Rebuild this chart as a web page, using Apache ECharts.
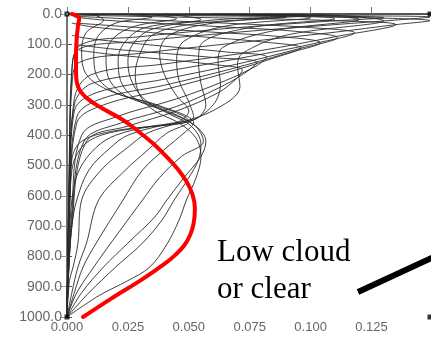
<!DOCTYPE html>
<html>
<head>
<meta charset="utf-8">
<script src="https://cdn.jsdelivr.net/npm/echarts@6/dist/echarts.min.js"></script>
<style>
  html, body { margin: 0; padding: 0; background: #fff; }
  #chart { width: 431px; height: 337px; }
</style>
</head>
<body>
<div id="chart"></div>
<script>
// axis ticks
const xTicks = [0, 0.025, 0.05, 0.075, 0.1, 0.125];

// thick red profile [value, pressure]
const redCurve = [[0.002, 0], [0.005, 15], [0.0045, 40], [0.004, 80], [0.0037, 140], [0.0037, 190],
  [0.004, 225], [0.0055, 255], [0.0085, 280], [0.0135, 307], [0.023, 350], [0.030, 392],
  [0.036, 432], [0.041, 472], [0.0455, 512], [0.049, 552], [0.0515, 595], [0.0525, 640],
  [0.052, 690], [0.0505, 730], [0.048, 765], [0.0445, 795], [0.040, 825], [0.031, 875],
  [0.018, 940], [0.0066, 1000]];

// outer low-level profiles
const o1 = [[0, 1000], [0.013, 930], [0.025, 880], [0.034, 835], [0.041, 760], [0.046, 680], [0.049, 614], [0.053, 540], [0.055, 470], [0.053, 410], [0.046, 360], [0.036, 320], [0.030, 270], [0.028, 200], [0.030, 130], [0.035, 70], [0.050, 35], [0.080, 15], [0.100, 5], [0.06, 0]];
const o2 = [[0, 1000], [0.009, 920], [0.020, 835], [0.031, 756], [0.039, 680], [0.044, 614], [0.050, 540], [0.054, 480], [0.055, 430], [0.051, 370], [0.042, 330], [0.033, 290], [0.027, 230], [0.025, 160], [0.027, 100], [0.035, 50], [0.060, 20], [0.090, 8], [0.05, 0]];
const o3 = [[0, 1000], [0.006, 920], [0.015, 835], [0.025, 756], [0.036, 670], [0.041, 614], [0.048, 540], [0.055, 470], [0.057, 420], [0.052, 365], [0.040, 320], [0.028, 280], [0.022, 220], [0.021, 150], [0.024, 90], [0.032, 45], [0.055, 18], [0.04, 0]];
const o4 = [[0, 1000], [0.004, 920], [0.011, 835], [0.018, 756], [0.031, 614], [0.038, 540], [0.047, 470], [0.056, 420], [0.052, 365], [0.038, 310], [0.024, 270], [0.017, 210], [0.016, 140], [0.019, 80], [0.028, 40], [0.045, 15], [0.03, 0]];
const o5 = [[0, 1000], [0.003, 920], [0.0066, 835], [0.012, 756], [0.023, 614], [0.031, 515], [0.041, 440], [0.048, 393], [0.052, 360], [0.037, 300], [0.020, 260], [0.012, 200], [0.011, 130], [0.013, 70], [0.020, 30], [0.035, 10], [0.02, 0]];
const o6 = [[0, 1000], [0.002, 920], [0.0045, 835], [0.008, 756], [0.013, 614], [0.024, 515], [0.033, 450], [0.041, 393], [0.050, 355], [0.036, 300], [0.018, 255], [0.008, 200], [0.006, 120], [0.008, 60], [0.015, 20], [0.01, 0]];

// mid-level profiles
const p1 = [[0, 1000], [0.001, 880], [0.0025, 835], [0.0045, 756], [0.006, 614], [0.014, 515], [0.025, 440], [0.033, 393], [0.046, 355], [0.050, 320], [0.045, 270], [0.040, 200], [0.038, 130], [0.042, 70], [0.060, 30], [0.090, 10], [0.06, 0]];
const p2 = [[0, 1000], [0.001, 800], [0.002, 700], [0.004, 614], [0.009, 515], [0.018, 440], [0.025, 400], [0.040, 365], [0.052, 340], [0.050, 290], [0.046, 220], [0.045, 150], [0.048, 90], [0.065, 40], [0.100, 12], [0.07, 0]];
const p3 = [[0, 1000], [0.001, 750], [0.002, 614], [0.005, 515], [0.012, 440], [0.020, 400], [0.035, 370], [0.052, 350], [0.057, 300], [0.055, 230], [0.054, 160], [0.055, 100], [0.075, 45], [0.110, 15], [0.08, 0]];
const p4 = [[0, 1000], [0.001, 700], [0.002, 515], [0.006, 440], [0.014, 400], [0.030, 375], [0.050, 355], [0.060, 300], [0.063, 230], [0.062, 160], [0.064, 110], [0.085, 55], [0.120, 18], [0.09, 0]];
const p5 = [[0, 1000], [0.001, 650], [0.002, 480], [0.006, 420], [0.020, 385], [0.045, 360], [0.062, 310], [0.071, 240], [0.070, 170], [0.072, 130], [0.090, 70], [0.130, 22], [0.10, 0]];

// upper-level profiles with sharp tips
const t1 = [[0, 1000], [0.001, 500], [0.002, 200], [0.004, 120], [0.030, 90], [0.070, 60], [0.110, 35], [0.135, 20], [0.149, 10], [0.120, 6], [0.080, 4], [0.040, 2], [0.005, 0]];
const t2 = [[0, 1000], [0.001, 500], [0.002, 240], [0.005, 160], [0.030, 130], [0.070, 95], [0.110, 60], [0.135, 35], [0.149, 22], [0.120, 12], [0.070, 7], [0.030, 4], [0.005, 1]];
const t3 = [[0, 1000], [0.001, 600], [0.003, 280], [0.010, 200], [0.040, 165], [0.080, 120], [0.110, 75], [0.135, 35], [0.110, 22], [0.070, 14], [0.030, 8], [0.005, 4]];
const t4 = [[0, 1000], [0.001, 600], [0.003, 320], [0.012, 260], [0.040, 215], [0.070, 165], [0.095, 115], [0.111, 78], [0.095, 58], [0.070, 45], [0.040, 32], [0.015, 20], [0.003, 10]];
const t5 = [[0, 1000], [0.001, 650], [0.004, 360], [0.015, 300], [0.040, 250], [0.065, 195], [0.085, 145], [0.096, 112], [0.080, 92], [0.055, 75], [0.030, 58], [0.010, 42], [0.002, 30]];
const t6 = [[0, 1000], [0.002, 650], [0.006, 400], [0.020, 340], [0.045, 280], [0.065, 220], [0.078, 170], [0.082, 142], [0.065, 125], [0.045, 110], [0.025, 95], [0.008, 80], [0.002, 70]];
const t7 = [[0, 1000], [0.002, 700], [0.008, 420], [0.025, 370], [0.045, 320], [0.062, 260], [0.070, 210], [0.072, 185], [0.058, 165], [0.040, 150], [0.020, 135], [0.005, 120]];
const t8 = [[0, 1000], [0.001, 550], [0.003, 300], [0.010, 230], [0.040, 190], [0.075, 140], [0.100, 100], [0.118, 62], [0.100, 45], [0.070, 32], [0.035, 20], [0.005, 8]];
const t9 = [[0, 1000], [0.001, 620], [0.004, 340], [0.014, 280], [0.040, 235], [0.068, 180], [0.090, 130], [0.104, 95], [0.088, 75], [0.060, 60], [0.030, 45], [0.004, 30]];
const t10 = [[0, 1000], [0.002, 680], [0.007, 420], [0.022, 360], [0.045, 305], [0.062, 245], [0.072, 200], [0.078, 160], [0.062, 145], [0.040, 130], [0.018, 115], [0.003, 100]];
const t11 = [[0, 1000], [0.001, 450], [0.002, 180], [0.006, 100], [0.030, 75], [0.070, 45], [0.105, 25], [0.130, 12], [0.100, 6], [0.060, 3], [0.010, 0]];

const blackCurves = [o1, o2, o3, o4, o5, o6, p1, p2, p3, p4, p5, t1, t2, t3, t4, t5, t6, t7, t8, t9, t10, t11];

// corner markers of the frame
const corners = [[0, 0], [0, 1000], [0.149, 0], [0.149, 1000]];

const chart = echarts.init(document.getElementById('chart'));

const series = blackCurves.map(function (d) {
  return {
    type: 'line',
    data: d,
    smooth: 0.35,
    symbol: 'none',
    lineStyle: { color: '#2b2b2b', width: 0.9 },
    z: 2
  };
});

series.push({
  type: 'line',
  data: redCurve,
  smooth: 0.4,
  symbol: 'none',
  lineStyle: { color: '#ff0000', width: 4, join: 'round', cap: 'round' },
  z: 5
});

series.push({
  type: 'scatter',
  data: corners,
  symbol: 'rect',
  symbolSize: 5,
  itemStyle: { color: '#000' },
  z: 6
});

series.push({
  type: 'scatter',
  data: [corners[0]],
  symbol: 'rect',
  symbolSize: 2,
  itemStyle: { color: '#22d0e0' },
  z: 7
});

const option = {
  animation: false,
  backgroundColor: '#fff',
  grid: { left: 67, top: 14, right: 1, bottom: 20, containLabel: false },
  xAxis: [
    {
      type: 'value',
      position: 'bottom',
      min: 0,
      max: 0.149,
      interval: 0.025,
      axisLine: { show: true, lineStyle: { color: '#777', width: 1.5 } },
      axisTick: {
        inside: true, length: 7, lineStyle: { color: '#777', width: 1 },
        customValues: xTicks
      },
      axisLabel: {
        color: '#666',
        fontFamily: 'Liberation Sans',
        fontSize: 13,
        margin: 4,
        customValues: xTicks,
        formatter: function (v) { return v.toFixed(3); }
      },
      splitLine: { show: false }
    },
    {
      type: 'value',
      position: 'top',
      min: 0,
      max: 0.149,
      axisLine: { show: true, lineStyle: { color: '#555', width: 2 } },
      axisTick: { show: false },
      axisLabel: { show: false },
      splitLine: { show: false }
    }
  ],
  yAxis: [
    {
      type: 'value',
      inverse: true,
      min: 0,
      max: 1000,
      interval: 100,
      axisLine: { show: true, lineStyle: { color: '#444', width: 1.5 } },
      axisTick: { inside: true, length: 5, lineStyle: { color: '#555' } },
      axisLabel: {
        color: '#666',
        fontFamily: 'Liberation Sans',
        fontSize: 14,
        margin: 5,
        formatter: function (v) { return v.toFixed(1); }
      },
      splitLine: { show: false }
    },
    {
      type: 'value',
      inverse: true,
      position: 'right',
      min: 0,
      max: 1000,
      interval: 100,
      axisLine: { show: false },
      axisTick: { show: true, inside: true, length: 7, lineStyle: { color: '#999' } },
      axisLabel: { show: false },
      splitLine: { show: false }
    }
  ],
  graphic: [
    {
      type: 'line',
      shape: { x1: 358, y1: 292, x2: 436, y2: 256 },
      style: { stroke: '#000', lineWidth: 6 },
      z: 10
    },
    {
      type: 'text',
      left: 217,
      top: 234,
      style: {
        text: 'Low cloud\nor clear',
        font: '31px "Liberation Serif"',
        lineHeight: 37,
        fill: '#000'
      },
      z: 10
    }
  ],
  series: series
};

chart.setOption(option);
</script>
</body>
</html>
